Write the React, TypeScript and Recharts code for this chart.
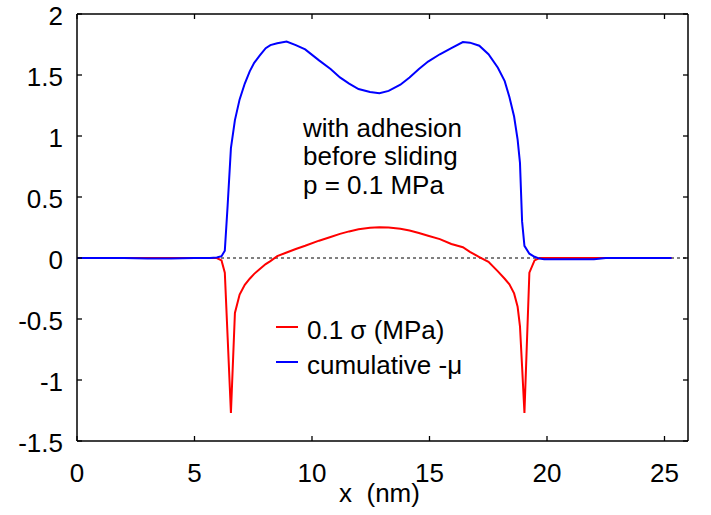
import React from "react";
import {
  LineChart,
  Line,
  XAxis,
  YAxis,
  ReferenceLine,
  Legend,
} from "recharts";

// x positions (nm)
const xs = [
  0, 1, 2, 3, 4, 5, 5.66, 5.95, 6.15, 6.29, 6.41, 6.55, 6.72, 6.92, 7.14, 7.35,
  7.54, 7.78, 8.03, 8.23, 8.52, 8.92, 9.31, 9.71, 10.3, 10.79, 11.19, 11.58,
  11.98, 12.47, 12.87, 13.26, 13.76, 14.15, 14.55, 14.94, 15.44, 15.93, 16.42,
  16.72, 17.12, 17.51, 17.91, 18.2, 18.4, 18.6, 18.75, 18.85, 18.94, 19.04,
  19.25, 19.47, 19.68, 19.88, 21, 22, 22.5, 24, 25, 25.3,
];

// 0.1 sigma (MPa) - red
const sigma = [
  0, 0, 0, 0, 0, 0, 0, 0, -0.02, -0.12, -0.65, -1.27, -0.45, -0.3, -0.22, -0.17,
  -0.13, -0.09, -0.05, -0.025, 0.015, 0.045, 0.074, 0.1, 0.142, 0.172, 0.198,
  0.218, 0.235, 0.247, 0.252, 0.25, 0.24, 0.225, 0.205, 0.183, 0.155, 0.115,
  0.088, 0.05, 0.008, -0.032, -0.11, -0.17, -0.215, -0.29, -0.4, -0.56, -0.89,
  -1.27, -0.12, -0.02, 0, 0, 0, 0, 0, 0, 0, 0,
];

// cumulative -mu - blue
const mu = [
  0, 0, 0, -0.005, -0.005, 0, 0, 0.005, 0.015, 0.06, 0.43, 0.9, 1.13, 1.3, 1.43,
  1.53, 1.6, 1.66, 1.72, 1.745, 1.76, 1.775, 1.745, 1.71, 1.62, 1.55, 1.48, 1.43,
  1.385, 1.36, 1.35, 1.37, 1.42, 1.48, 1.55, 1.61, 1.67, 1.72, 1.77, 1.765, 1.74,
  1.67, 1.56, 1.45, 1.32, 1.16, 0.97, 0.78, 0.3, 0.1, 0.035, 0.01, -0.005, -0.01,
  -0.01, -0.01, 0, 0, 0, 0,
];

const xTicks = [0, 5, 10, 15, 20, 25];
const yTicks = [-1.5, -1, -0.5, 0, 0.5, 1, 1.5, 2];
const noteLines = ["with adhesion", "before sliding", "p = 0.1 MPa"];

const data = xs.map((x, i) => ({ x, sigma: sigma[i], mu: mu[i] }));

const FONT = "'Liberation Sans', Arial, Helvetica, sans-serif";
const FS = 26;
const W = 711;
const H = 515;
const PLOT_W = 611; // 77 -> 688
const PLOT_H = 427; // 14 -> 441

const XTick = ({ x, y, payload }: any) => (
  <g>
    <line x1={x} y1={y} x2={x} y2={y - 5} stroke="#000" strokeWidth={1.3} />
    <line x1={x} y1={y - PLOT_H} x2={x} y2={y - PLOT_H + 5} stroke="#000" strokeWidth={1.3} />
    <text x={x} y={y + 41} textAnchor="middle" fontSize={FS} fontFamily={FONT} fill="#000">
      {payload.value}
    </text>
  </g>
);

const YTick = ({ x, y, payload }: any) => (
  <g>
    <line x1={x} y1={y} x2={x + 5} y2={y} stroke="#000" strokeWidth={1.3} />
    <line x1={x + PLOT_W} y1={y} x2={x + PLOT_W - 5} y2={y} stroke="#000" strokeWidth={1.3} />
    <text x={x - 14} y={y + 11} textAnchor="end" fontSize={FS} fontFamily={FONT} fill="#000">
      {payload.value}
    </text>
  </g>
);

const renderLegend = (props: any) => (
  <div style={{ fontFamily: FONT, fontSize: FS, color: "#000" }}>
    {(props.payload || []).map((p: any) => (
      <div key={p.value} style={{ display: "flex", alignItems: "center", height: 34.5 }}>
        <svg width={22} height={10} style={{ marginRight: 9, marginTop: -6 }}>
          <line x1={0} y1={5} x2={22} y2={5} stroke={p.color} strokeWidth={2} />
        </svg>
        <span style={{ lineHeight: "28px", whiteSpace: "nowrap" }}>{p.value}</span>
      </div>
    ))}
  </div>
);

export default function App() {
  return (
    <div style={{ position: "absolute", left: 0, top: 0, width: W, height: H, background: "#fff" }}>
      <LineChart
        width={W}
        height={H}
        data={data}
        margin={{ top: 14, right: 23, bottom: 0, left: 0 }}
      >
        <XAxis
          dataKey="x"
          type="number"
          domain={[0, 26]}
          ticks={xTicks}
          height={74}
          tickSize={0}
          tickMargin={0}
          tickLine={false}
          axisLine={{ stroke: "#000", strokeWidth: 1.5 }}
          tick={<XTick />}
          interval={0}
          label={{
            value: "x\u00a0\u00a0(nm)",
            position: "insideBottom",
            offset: 13,
            dx: -3,
            fill: "#000",
            fontSize: FS,
            fontFamily: FONT,
          }}
        />
        <YAxis
          type="number"
          domain={[-1.5, 2]}
          ticks={yTicks}
          width={77}
          tickSize={0}
          tickMargin={0}
          tickLine={false}
          axisLine={{ stroke: "#000", strokeWidth: 1.5 }}
          tick={<YTick />}
          interval={0}
        />
        <ReferenceLine y={0} stroke="#000" strokeWidth={1} strokeDasharray="3 3" />
        <ReferenceLine y={2} stroke="#000" strokeWidth={1.5} />
        <ReferenceLine x={26} stroke="#000" strokeWidth={1.5} />
        <Line
          type="linear"
          dataKey="sigma"
          name="0.1 σ (MPa)"
          stroke="#ff0000"
          strokeWidth={2}
          dot={false}
          isAnimationActive={false}
        />
        <Line
          type="linear"
          dataKey="mu"
          name="cumulative -μ"
          stroke="#0000ff"
          strokeWidth={2}
          dot={false}
          isAnimationActive={false}
        />
        <Legend
          layout="vertical"
          align="center"
          verticalAlign="middle"
          content={renderLegend}
          wrapperStyle={{ left: 276, top: 313, width: 320, height: 70 }}
        />
      </LineChart>
      <div
        style={{
          position: "absolute",
          left: 303,
          top: 114,
          fontFamily: FONT,
          fontSize: FS,
          lineHeight: "28.3px",
          color: "#000",
          whiteSpace: "nowrap",
        }}
      >
        {noteLines.map((t) => (
          <div key={t}>{t}</div>
        ))}
      </div>
    </div>
  );
}
